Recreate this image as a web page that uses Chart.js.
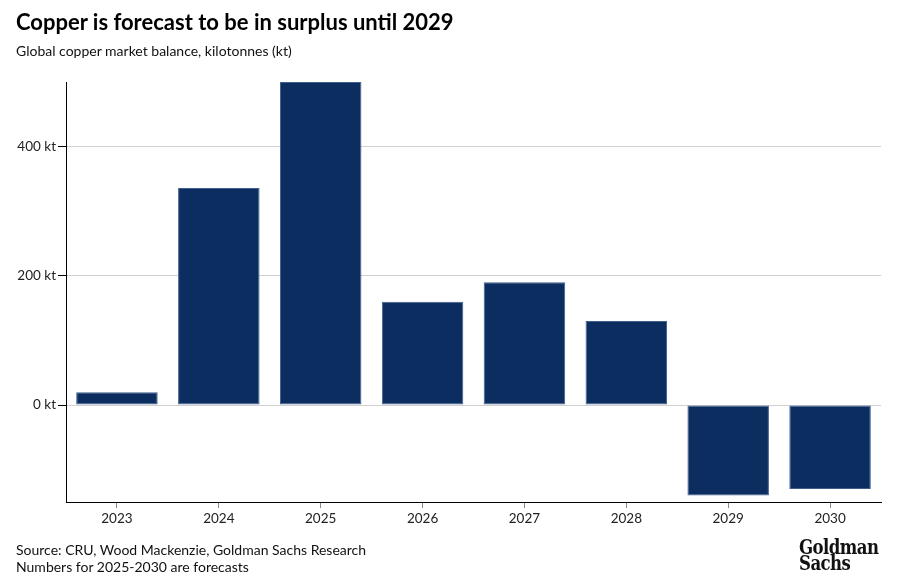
<!DOCTYPE html>
<html>
<head>
<meta charset="utf-8">
<script src="https://cdn.jsdelivr.net/npm/chart.js@4.4.1/dist/chart.umd.min.js"></script>
<style>
  html, body { margin: 0; padding: 0; background: #fff; }
  body { width: 919px; height: 583px; position: relative; overflow: hidden; font-family: Lato, "Noto Sans", sans-serif; color: #111; }
  #wrap { position: absolute; left: 0; top: 0; width: 919px; height: 583px; }
  .title { position: absolute; left: 16px; top: 8px; font-size: 22px; font-weight: 700; color: #000; }
  .subtitle { position: absolute; left: 16px; top: 42px; font-size: 14px; color: #111; }
  .source { position: absolute; left: 16px; top: 541px; font-size: 14px; line-height: 17px; color: #111; }
  .logo { position: absolute; left: 799px; top: 539px; font-family: "DejaVu Serif Condensed", "Liberation Serif", serif; font-weight: 700; font-size: 20px; line-height: 16px; color: #111; letter-spacing: -0.6px; transform: scaleX(0.92); transform-origin: left top; }
</style>
</head>
<body>
<div id="wrap"><canvas id="chart"></canvas></div>
<div class="title">Copper is forecast to be in surplus until 2029</div>
<div class="subtitle">Global copper market balance, kilotonnes (kt)</div>
<div class="source">Source: CRU, Wood Mackenzie, Goldman Sachs Research<br>Numbers for 2025-2030 are forecasts</div>
<div class="logo">Goldman<br>Sachs</div>
<script>
// chart data
const years = ["2023", "2024", "2025", "2026", "2027", "2028", "2029", "2030"]
const balance = [20, 336, 500, 160, 190, 130, -140, -130]
const yTicks = [0, 200, 400]

const ctx = document.getElementById("chart").getContext("2d")
new Chart(ctx, {
  type: "bar",
  data: {
    labels: years,
    datasets: [
      {
        data: balance,
        backgroundColor: "#0b2d5f",
        borderColor: "#3f5f8f",
        borderWidth: 1,
        borderSkipped: false,
        barPercentage: 0.8,
        categoryPercentage: 1,
      },
    ],
  },
  options: {
    responsive: true,
    maintainAspectRatio: false,
    animation: false,
    layout: { padding: { top: 82, right: 38, bottom: 51, left: 0 } },
    plugins: { legend: { display: false }, tooltip: { enabled: false } },
    scales: {
      x: {
        grid: { offset: false, drawOnChartArea: false, tickLength: 6, tickColor: "#888" },
        border: { color: "#000", width: 1 },
        ticks: { color: "#222", font: { family: "Lato", size: 13.5 }, padding: 3 },
        afterFit: (scale) => { scale.height = 30 },
      },
      y: {
        min: -150,
        max: 500,
        afterBuildTicks: (axis) => { axis.ticks = yTicks.map((v) => ({ value: v })) },
        grid: { color: "#d0d0d0", tickLength: 8, tickColor: "#000" },
        border: { color: "#000", width: 1 },
        ticks: {
          color: "#222",
          font: { family: "Lato", size: 13.5 },
          padding: 2,
          callback: (v) => v + " kt",
        },
        afterFit: (scale) => { scale.width = 66 },
      },
    },
  },
})
</script>
</body>
</html>
